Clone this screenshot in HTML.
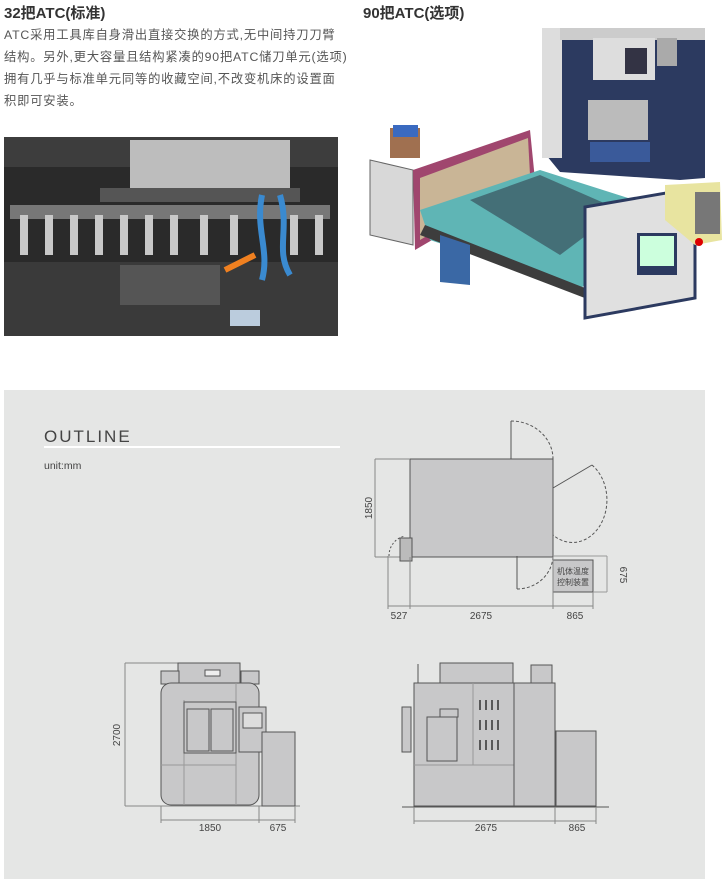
<!DOCTYPE html>
<html><head><meta charset="utf-8"><style>
body{margin:0;background:#fff;width:727px;height:879px;overflow:hidden;position:relative;font-family:"Liberation Sans","Noto Sans CJK SC",sans-serif;}
.t{position:absolute;color:#333;}
.b div{white-space:nowrap;}
</style></head><body>
<div class="t" style="left:4px;top:2px;font-size:15px;font-weight:bold;">32把ATC(标准)</div>
<div class="t" style="left:363px;top:2px;font-size:15px;font-weight:bold;">90把ATC(选项)</div>
<div class="t b" style="left:4px;top:24px;font-size:12.3px;line-height:22px;color:#555;letter-spacing:0.8px;">
<div>ATC采用工具库自身滑出直接交换的方式,无中间持刀刀臂</div>
<div>结构。另外,更大容量且结构紧凑的90把ATC储刀单元(选项)</div>
<div>拥有几乎与标准单元同等的收藏空间,不改变机床的设置面</div>
<div>积即可安装。</div>
</div>
<svg width="727" height="879" style="position:absolute;left:0;top:0" font-family="Liberation Sans, Noto Sans CJK SC, sans-serif">
<rect x="4" y="137" width="334" height="199" fill="#2a2a2a"/>
<rect x="4" y="137" width="334" height="30" fill="#3d3d3d"/>
<rect x="130" y="140" width="160" height="48" fill="#bdbdbd"/>
<rect x="100" y="188" width="200" height="14" fill="#555"/>
<rect x="10" y="205" width="320" height="14" fill="#777"/>
<g fill="#c8c8c8">
<rect x="20" y="215" width="8" height="40"/><rect x="45" y="215" width="8" height="40"/><rect x="70" y="215" width="8" height="40"/><rect x="95" y="215" width="8" height="40"/><rect x="120" y="215" width="8" height="40"/><rect x="145" y="215" width="8" height="40"/><rect x="170" y="215" width="8" height="40"/><rect x="200" y="215" width="8" height="40"/><rect x="230" y="215" width="8" height="40"/><rect x="290" y="215" width="8" height="40"/><rect x="315" y="215" width="8" height="40"/>
</g>
<rect x="4" y="262" width="334" height="74" fill="#3a3a3a"/>
<rect x="120" y="265" width="100" height="40" fill="#555"/>
<path d="M262 195 C255 230 270 250 262 280" stroke="#3a8ad0" stroke-width="6" fill="none"/>
<path d="M280 195 C290 230 275 250 290 275" stroke="#3a8ad0" stroke-width="6" fill="none"/>
<path d="M225 270 L255 255" stroke="#f08020" stroke-width="6"/>
<rect x="230" y="310" width="30" height="16" fill="#bcd"/>
<polygon points="542,28 705,28 705,178 680,180 560,172 542,150" fill="#2c3a60"/>
<rect x="542" y="28" width="20" height="130" fill="#ddd"/>
<rect x="560" y="28" width="145" height="12" fill="#ccc"/>
<rect x="593" y="38" width="62" height="42" fill="#ddd"/>
<rect x="625" y="48" width="22" height="26" fill="#334"/>
<rect x="657" y="38" width="20" height="28" fill="#aaa"/>
<rect x="588" y="100" width="60" height="40" fill="#bbb"/>
<rect x="590" y="142" width="60" height="20" fill="#3a5a9a"/>
<polygon points="370,160 413,170 413,245 370,235" fill="#d8d8d8" stroke="#666"/>
<polygon points="413,170 530,130 535,180 415,250" fill="#a0466e"/>
<polygon points="420,178 528,138 530,175 420,240" fill="#c9b596"/>
<polygon points="420,210 540,170 650,205 580,290 430,240" fill="#5fb5b5"/>
<polygon points="470,200 540,175 620,210 560,255" fill="#2a2a3a" opacity="0.5"/>
<polygon points="425,225 590,290 590,300 420,235" fill="#3d3d3d"/>
<polygon points="440,235 470,245 470,285 440,282" fill="#3a68a5"/>
<polygon points="585,207 695,188 695,298 585,318" fill="#e0e0e0" stroke="#2c3a60" stroke-width="3"/>
<rect x="637" y="233" width="40" height="42" fill="#2c3a60"/>
<rect x="640" y="236" width="34" height="30" fill="#cfd"/>
<polygon points="665,185 720,182 722,240 695,245 665,220" fill="#e8e4a0"/>
<rect x="695" y="192" width="25" height="42" fill="#777"/>
<circle cx="699" cy="242" r="4" fill="#d00"/>
<rect x="390" y="128" width="30" height="30" fill="#a07050"/>
<rect x="393" y="125" width="25" height="12" fill="#3a6ac0"/>
<rect x="4" y="390" width="701" height="489" fill="#e5e6e5"/>
<text x="44" y="442" font-size="17" fill="#444" letter-spacing="2">OUTLINE</text>
<rect x="44" y="446" width="296" height="2" fill="#fff"/>
<text x="44" y="469" font-size="10.5" fill="#444">unit:mm</text>
<g stroke="#555" fill="none" stroke-width="1">
<rect x="410" y="459" width="143" height="98" fill="#c8c8c9"/>
<line x1="375" y1="459" x2="410" y2="459" stroke="#888"/>
<line x1="375" y1="557" x2="410" y2="557" stroke="#888"/>
<line x1="375" y1="459" x2="375" y2="557" stroke="#888"/>
<path d="M511 459 V421" /><path d="M511 421 A42 38 0 0 1 553 459" stroke-dasharray="3,2"/>
<path d="M553 488 L592 465"/><path d="M592 465 A30 37 0 0 1 553 535" stroke-dasharray="3,2"/>
<path d="M517 556 V589"/><path d="M517 589 A36 34 0 0 0 553 556" stroke-dasharray="3,2"/>
<rect x="553" y="560" width="40" height="32" fill="#c8c8c9"/>
<path d="M553 556 H607 M593 592 H607 M607 556 V592" stroke="#999"/>
<rect x="400" y="538" width="12" height="23" fill="#bbb"/>
<path d="M389 556 A20 20 0 0 1 405 536" stroke-dasharray="2,2"/>
<line x1="388" y1="606" x2="593" y2="606" stroke="#888"/>
<path d="M388 556 V609 M410 557 V609 M553 557 V609 M593 592 V609" stroke="#888"/>
</g>
<text x="573" y="574" font-size="8" fill="#444" text-anchor="middle">机体温度</text>
<text x="573" y="585" font-size="8" fill="#444" text-anchor="middle">控制装置</text>
<g font-size="10" fill="#444" text-anchor="middle">
<text x="399" y="619">527</text><text x="481" y="619">2675</text><text x="575" y="619">865</text>
<text transform="translate(372,508) rotate(-90)">1850</text>
<text transform="translate(620,575) rotate(90)">675</text>
<text transform="translate(120,735) rotate(-90)">2700</text>
<text x="210" y="831">1850</text><text x="278" y="831">675</text>
<text x="486" y="831">2675</text><text x="577" y="831">865</text>
</g>
<g stroke="#555" stroke-width="1">
<path d="M125 663 H178 M125 663 V806 M125 806 H300" stroke="#888" fill="none"/>
<rect x="178" y="663" width="62" height="21" fill="#c8c8c9"/>
<rect x="161" y="671" width="18" height="13" fill="#c8c8c9"/><rect x="241" y="671" width="18" height="13" fill="#c8c8c9"/>
<rect x="205" y="670" width="15" height="6" fill="#eee"/>
<rect x="161" y="683" width="98" height="122" rx="10" fill="#c8c8c9"/>
<path d="M184 700 V805 M236 683 V805 M161 765 H236" fill="none" stroke="#999"/>
<rect x="184" y="702" width="52" height="51" fill="#c8c8c9"/>
<rect x="187" y="709" width="22" height="42" fill="#c8c8c9"/><rect x="211" y="709" width="22" height="42" fill="#c8c8c9"/>
<rect x="239" y="707" width="27" height="45" fill="#c8c8c9"/>
<rect x="243" y="713" width="19" height="15" fill="#ddd"/>
<rect x="262" y="732" width="33" height="74" fill="#c8c8c9"/>
<path d="M161 820 H295 M161 806 V823 M259 806 V823 M295 806 V823" stroke="#888" fill="none"/>
</g>
<g stroke="#555" stroke-width="1">
<rect x="440" y="663" width="73" height="20" fill="#c8c8c9"/>
<rect x="531" y="665" width="21" height="18" fill="#c8c8c9"/>
<line x1="418" y1="664" x2="418" y2="683"/>
<rect x="414" y="683" width="100" height="123" fill="#c8c8c9"/>
<path d="M414 765 H514 M473 683 V765" stroke="#999" fill="none"/>
<rect x="427" y="717" width="30" height="44" fill="#c8c8c9"/>
<rect x="440" y="709" width="18" height="8" fill="#c8c8c9"/>
<rect x="514" y="683" width="41" height="123" fill="#c8c8c9"/>
<rect x="556" y="731" width="40" height="75" fill="#c8c8c9"/>
<rect x="402" y="707" width="9" height="45" fill="#c8c8c9"/>
<g stroke="#333" stroke-width="1.5">
<path d="M480 700v10M486 700v10M492 700v10M498 700v10M480 720v10M486 720v10M492 720v10M498 720v10M480 740v10M486 740v10M492 740v10M498 740v10"/>
</g>
<path d="M402 807 H609" fill="none"/>
<path d="M414 821 H596 M414 807 V824 M555 807 V824 M596 807 V824" stroke="#888" fill="none"/>
</g>
</svg>
</body></html>
